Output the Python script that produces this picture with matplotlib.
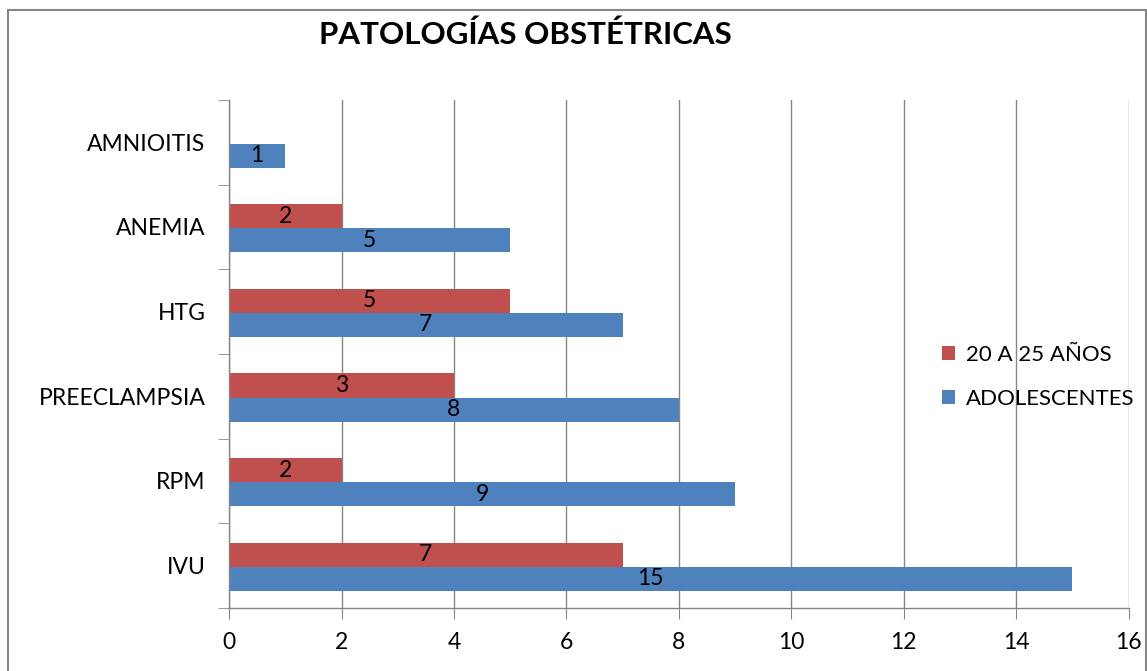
import matplotlib
matplotlib.use("Agg")
import matplotlib.pyplot as plt
import numpy as np

categories = ["IVU", "RPM", "PREECLAMPSIA", "HTG", "ANEMIA", "AMNIOITIS"]
adolescentes = [15, 9, 8, 7, 5, 1]
adolescentes_labels = ["15", "9", "8", "7", "5", "1"]
veinte_25 = [7, 2, 4, 5, 2, 0]
veinte_25_labels = ["7", "2", "3", "5", "2", ""]
xticks = [0, 2, 4, 6, 8, 10, 12, 14, 16]

plt.rcParams['font.family'] = ['Lato', 'DejaVu Sans']

fig = plt.figure(figsize=(11.47, 6.71), dpi=100)
ax = fig.add_axes([0.1997, 0.094, 0.7843, 0.757])

y = np.arange(len(categories))
h = 0.285
blue = "#4F81BD"
red = "#C0504D"
b1 = ax.barh(y - h/2 - 0.015, adolescentes, height=h, color=blue, label="ADOLESCENTES", zorder=3)
b2 = ax.barh(y + h/2 - 0.015, veinte_25, height=h, color=red, label="20 A 25 AÑOS", zorder=3)

for rect, lab in zip(b1, adolescentes_labels):
    ax.text(rect.get_x() + rect.get_width()/2, rect.get_y() + rect.get_height()/2, lab,
            ha="center", va="center", fontsize=16.5, zorder=4)
for rect, lab in zip(b2, veinte_25_labels):
    if lab:
        ax.text(rect.get_x() + rect.get_width()/2, rect.get_y() + rect.get_height()/2, lab,
                ha="center", va="center", fontsize=16.5, zorder=4)

ax.set_xlim(0, 16)
ax.set_ylim(-0.5, len(categories) - 0.5)
ax.set_xticks(xticks)
ax.set_xticklabels([str(t) for t in xticks], fontsize=16.5)
ax.set_yticks(y)
ax.set_yticklabels(categories, fontsize=16.5)
ax.set_yticks(np.arange(-0.5, len(categories), 1), minor=True)
ax.tick_params(axis="y", which="major", length=0, pad=17)
ax.tick_params(axis="y", which="minor", length=8, color="#868686", direction="out")
ax.tick_params(axis="x", which="major", length=8, color="#868686", direction="out", pad=9)
ax.grid(axis="x", color="#868686", linewidth=1, zorder=0)
for s in ["top", "right"]:
    ax.spines[s].set_visible(False)
for s in ["left", "bottom"]:
    ax.spines[s].set_color("#868686")
    ax.spines[s].set_linewidth(1)
ax.spines["left"].set_zorder(5)

handles = [b2, b1]
ax.legend(handles, ["20 A 25 AÑOS", "ADOLESCENTES"], loc="center left",
          bbox_to_anchor=(0.77, 0.455), frameon=False, fontsize=16,
          handlelength=0.6, handleheight=0.6, handletextpad=0.5, labelspacing=1.1)

fig.text(0.458, 0.948, "PATOLOGÍAS OBSTÉTRICAS", ha="center", va="center",
         fontsize=22.5, fontweight="bold")

border = plt.Rectangle((0.007, -0.01), 0.992, 0.995, transform=fig.transFigure,
                       fill=False, edgecolor="#868686", linewidth=1.5)
fig.patches.append(border)

fig.savefig("out.png", dpi=100)
